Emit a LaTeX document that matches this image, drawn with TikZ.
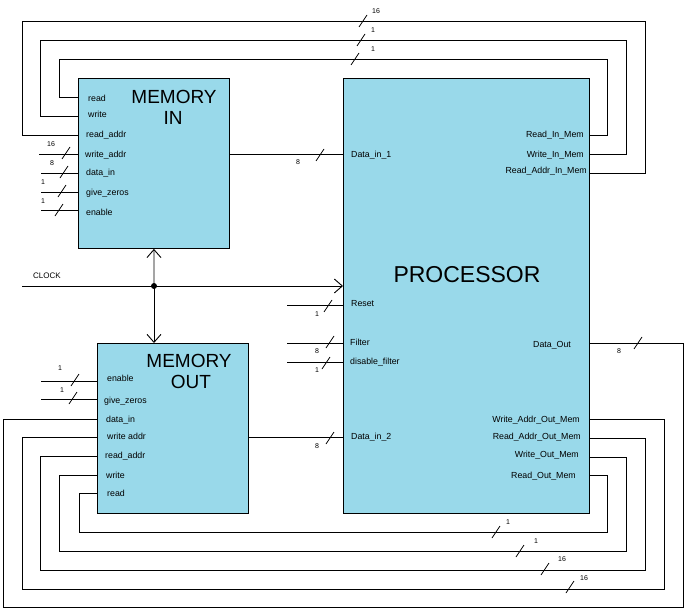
\documentclass[tikz,border=0pt]{standalone}
\usepackage{fontspec}
\setmainfont{Liberation Sans}
\usetikzlibrary{arrows.meta}
\definecolor{boxblue}{RGB}{153,217,234}
\newcommand\lblfont{\fontsize{8.8}{10}\selectfont}
\newcommand\numfont{\fontsize{7}{8}\selectfont}
\newcommand\clkfont{\fontsize{8}{9}\selectfont}
\newcommand\memfont{\fontsize{19}{22}\selectfont}
\newcommand\procfont{\fontsize{23}{26}\selectfont}
\tikzset{
  wire/.style={line width=0.9pt},
  blk/.style={draw, fill=boxblue, line width=0.9pt, anchor=north west, inner sep=0pt},
  lbl/.style={font=\lblfont, inner sep=0pt, text height=6.5pt, text depth=0pt},
  num/.style={font=\numfont, inner sep=0pt},
  ttl/.style={inner sep=0pt},
  arr/.style={-{Straight Barb[length=8pt,width=14pt]}},
  busmark/.pic={\draw[line width=0.8pt] (-4,6) -- (4,-6);}
}
\begin{document}
\begin{tikzpicture}[x=1pt,y=-1pt]
\useasboundingbox (0,0) rectangle (690,615);

% ---------- blocks ----------
\node[blk, minimum width=151pt, minimum height=170pt] (memin) at (78,78) {};
\node[blk, minimum width=246pt, minimum height=435pt] (proc) at (343,78) {};
\node[blk, minimum width=151pt, minimum height=170pt] (memout) at (97,343) {};

% titles
\node[ttl, font=\memfont] (t-mi1) at (174,97) {MEMORY};
\node[ttl, font=\memfont] (t-mi2) at (173,118) {IN};
\node[ttl, font=\memfont] (t-mo1) at (189,361) {MEMORY};
\node[ttl, font=\memfont] (t-mo2) at (191,382) {OUT};
\node[ttl, font=\procfont] (t-p) at (467,275) {PROCESSOR};

% ---------- ports ----------
\coordinate (mi-read) at (78,97);
\coordinate (mi-write) at (78,116);
\coordinate (mi-raddr) at (78,135);
\coordinate (mi-waddr) at (78,154);
\coordinate (mi-din) at (78,173);
\coordinate (mi-gz) at (78,192);
\coordinate (mi-en) at (78,210);
\coordinate (mi-out) at (229,154);

\coordinate (p-din1) at (343,154);
\coordinate (p-clk) at (343,286);
\coordinate (p-reset) at (343,305);
\coordinate (p-filter) at (343,343);
\coordinate (p-dis) at (343,362);
\coordinate (p-din2) at (343,437);
\coordinate (p-rim) at (589,135);
\coordinate (p-wim) at (589,154);
\coordinate (p-raim) at (589,173);
\coordinate (p-dout) at (589,343);
\coordinate (p-waom) at (589,419);
\coordinate (p-raom) at (589,438);
\coordinate (p-wom) at (589,457);
\coordinate (p-rom) at (589,475);

\coordinate (mo-clk) at (154,343);
\coordinate (mo-en) at (97,381);
\coordinate (mo-gz) at (97,399);
\coordinate (mo-din) at (97,419);
\coordinate (mo-waddr) at (97,437);
\coordinate (mo-raddr) at (97,456);
\coordinate (mo-write) at (97,475);
\coordinate (mo-read) at (97,493);
\coordinate (mo-out) at (248,437);

% free ends
\coordinate (f-mi-waddr) at (39,154);
\coordinate (f-mi-din) at (41,173);
\coordinate (f-mi-gz) at (41,192);
\coordinate (f-mi-en) at (41,210);
\coordinate (f-mo-en) at (41,381);
\coordinate (f-mo-gz) at (41,399);
\coordinate (f-reset) at (287,305);
\coordinate (f-filter) at (287,343);
\coordinate (f-dis) at (287,362);
\coordinate (f-clk) at (22,286);
\coordinate (clkdot) at (154,286);

% ---------- memory in labels ----------
\node[lbl, anchor=west] (l-mi-read) at (88,98) {read};
\node[lbl, anchor=west] (l-mi-write) at (88,114) {write};
\node[lbl, anchor=west] (l-mi-raddr) at (86,134) {read\_addr};
\node[lbl, anchor=west] (l-mi-waddr) at (85,154) {write\_addr};
\node[lbl, anchor=west] (l-mi-din) at (86,172) {data\_in};
\node[lbl, anchor=west] (l-mi-gz) at (86,192) {give\_zeros};
\node[lbl, anchor=west] (l-mi-en) at (86,212) {enable};

% ---------- memory out labels ----------
\node[lbl, anchor=west] (l-mo-en) at (107,378) {enable};
\node[lbl, anchor=west] (l-mo-gz) at (104,400) {give\_zeros};
\node[lbl, anchor=west] (l-mo-din) at (106,419) {data\_in};
\node[lbl, anchor=west] (l-mo-waddr) at (107,436) {write addr};
\node[lbl, anchor=west] (l-mo-raddr) at (105,455) {read\_addr};
\node[lbl, anchor=west] (l-mo-write) at (106,475) {write};
\node[lbl, anchor=west] (l-mo-read) at (107,493) {read};

% ---------- processor labels ----------
\node[lbl, anchor=west] (l-p-din1) at (351,154) {Data\_in\_1};
\node[lbl, anchor=west] (l-p-reset) at (351,303) {Reset};
\node[lbl, anchor=west] (l-p-filter) at (350,342) {Filter};
\node[lbl, anchor=west] (l-p-dis) at (350,361) {disable\_filter};
\node[lbl, anchor=west] (l-p-din2) at (351,436) {Data\_in\_2};
\node[lbl, anchor=east] (l-p-rim) at (584,134) {Read\_In\_Mem};
\node[lbl, anchor=east] (l-p-wim) at (584,154) {Write\_In\_Mem};
\node[lbl, anchor=east] (l-p-raim) at (587,170) {Read\_Addr\_In\_Mem};
\node[lbl] (l-p-dout) at (552,344) {Data\_Out};
\node[lbl, anchor=east] (l-p-waom) at (580,419) {Write\_Addr\_Out\_Mem};
\node[lbl, anchor=east] (l-p-raom) at (581,436) {Read\_Addr\_Out\_Mem};
\node[lbl, anchor=east] (l-p-wom) at (579,454) {Write\_Out\_Mem};
\node[lbl, anchor=east] (l-p-rom) at (576,475) {Read\_Out\_Mem};

\node[font=\clkfont, inner sep=0pt] (l-clk) at (47,276) {CLOCK};

% ---------- wires ----------
% inputs of memory in
\draw[wire] (f-mi-waddr) -- (mi-waddr);
\draw[wire] (f-mi-din) -- (mi-din);
\draw[wire] (f-mi-gz) -- (mi-gz);
\draw[wire] (f-mi-en) -- (mi-en);
\pic at (66,153) {busmark}; \node[num] (n1) at (51,144) {16};
\pic at (64,172) {busmark}; \node[num] (n2) at (52,163) {8};
\pic at (62,191) {busmark}; \node[num] (n3) at (43,182) {1};
\pic at (59,210) {busmark}; \node[num] (n4) at (43,201) {1};

% memory in -> processor
\draw[wire] (mi-out) -- (p-din1);
\pic at (320,155) {busmark}; \node[num] (n5) at (298,162) {8};

% memory out -> processor
\draw[wire] (mo-out) -- (p-din2);
\pic at (330,438) {busmark}; \node[num] (n6) at (317,446) {8};

% processor left inputs
\draw[wire] (f-reset) -- (p-reset);
\draw[wire] (f-filter) -- (p-filter);
\draw[wire] (f-dis) -- (p-dis);
\pic at (328,306) {busmark}; \node[num] (n7) at (317,314) {1};
\pic at (330,342) {busmark}; \node[num] (n8) at (317,351) {8};
\pic at (326,363) {busmark}; \node[num] (n9) at (317,370) {1};

% memory out left inputs
\draw[wire] (f-mo-en) -- (mo-en);
\draw[wire] (f-mo-gz) -- (mo-gz);
\pic at (75,380) {busmark}; \node[num] (n10) at (60,368) {1};
\pic at (73,398) {busmark}; \node[num] (n11) at (62,390) {1};

% clock
\draw[wire, arr] (f-clk) -- (p-clk);
\draw[wire, arr] (clkdot) -- (memin.south);
\draw[wire, arr] (clkdot) -- (mo-clk);
\fill (clkdot) circle (3pt);

% top feedback loops
\draw[wire] (p-rim) -- (607,135) -- (607,59) -- (59,59) -- (59,97) -- (mi-read);
\draw[wire] (p-wim) -- (626,154) -- (626,40) -- (40,40) -- (40,116) -- (mi-write);
\draw[wire] (p-raim) -- (645,173) -- (645,21) -- (22,21) -- (22,135) -- (mi-raddr);
\pic at (363,21) {busmark}; \node[num] (n12) at (376,11) {16};
\pic at (361,40) {busmark}; \node[num] (n13) at (373,30) {1};
\pic at (355,59) {busmark}; \node[num] (n14) at (373,49) {1};

% bottom feedback loops
\draw[wire] (p-rom) -- (607,475) -- (607,532) -- (79,532) -- (79,493) -- (mo-read);
\draw[wire] (p-wom) -- (626,457) -- (626,551) -- (59,551) -- (59,475) -- (mo-write);
\draw[wire] (p-raom) -- (645,438) -- (645,570) -- (40,570) -- (40,456) -- (mo-raddr);
\draw[wire] (p-waom) -- (664,419) -- (664,589) -- (22,589) -- (22,437) -- (mo-waddr);
\draw[wire] (p-dout) -- (683,343) -- (683,607) -- (3,607) -- (3,419) -- (mo-din);
\pic at (496,532) {busmark}; \node[num] (n15) at (508,522) {1};
\pic at (520,551) {busmark}; \node[num] (n16) at (536,541) {1};
\pic at (545,569) {busmark}; \node[num] (n17) at (562,559) {16};
\pic at (570,587) {busmark}; \node[num] (n18) at (584,578) {16};
\pic at (638,343) {busmark}; \node[num] (n19) at (619,351) {8};

\end{tikzpicture}
\end{document}
